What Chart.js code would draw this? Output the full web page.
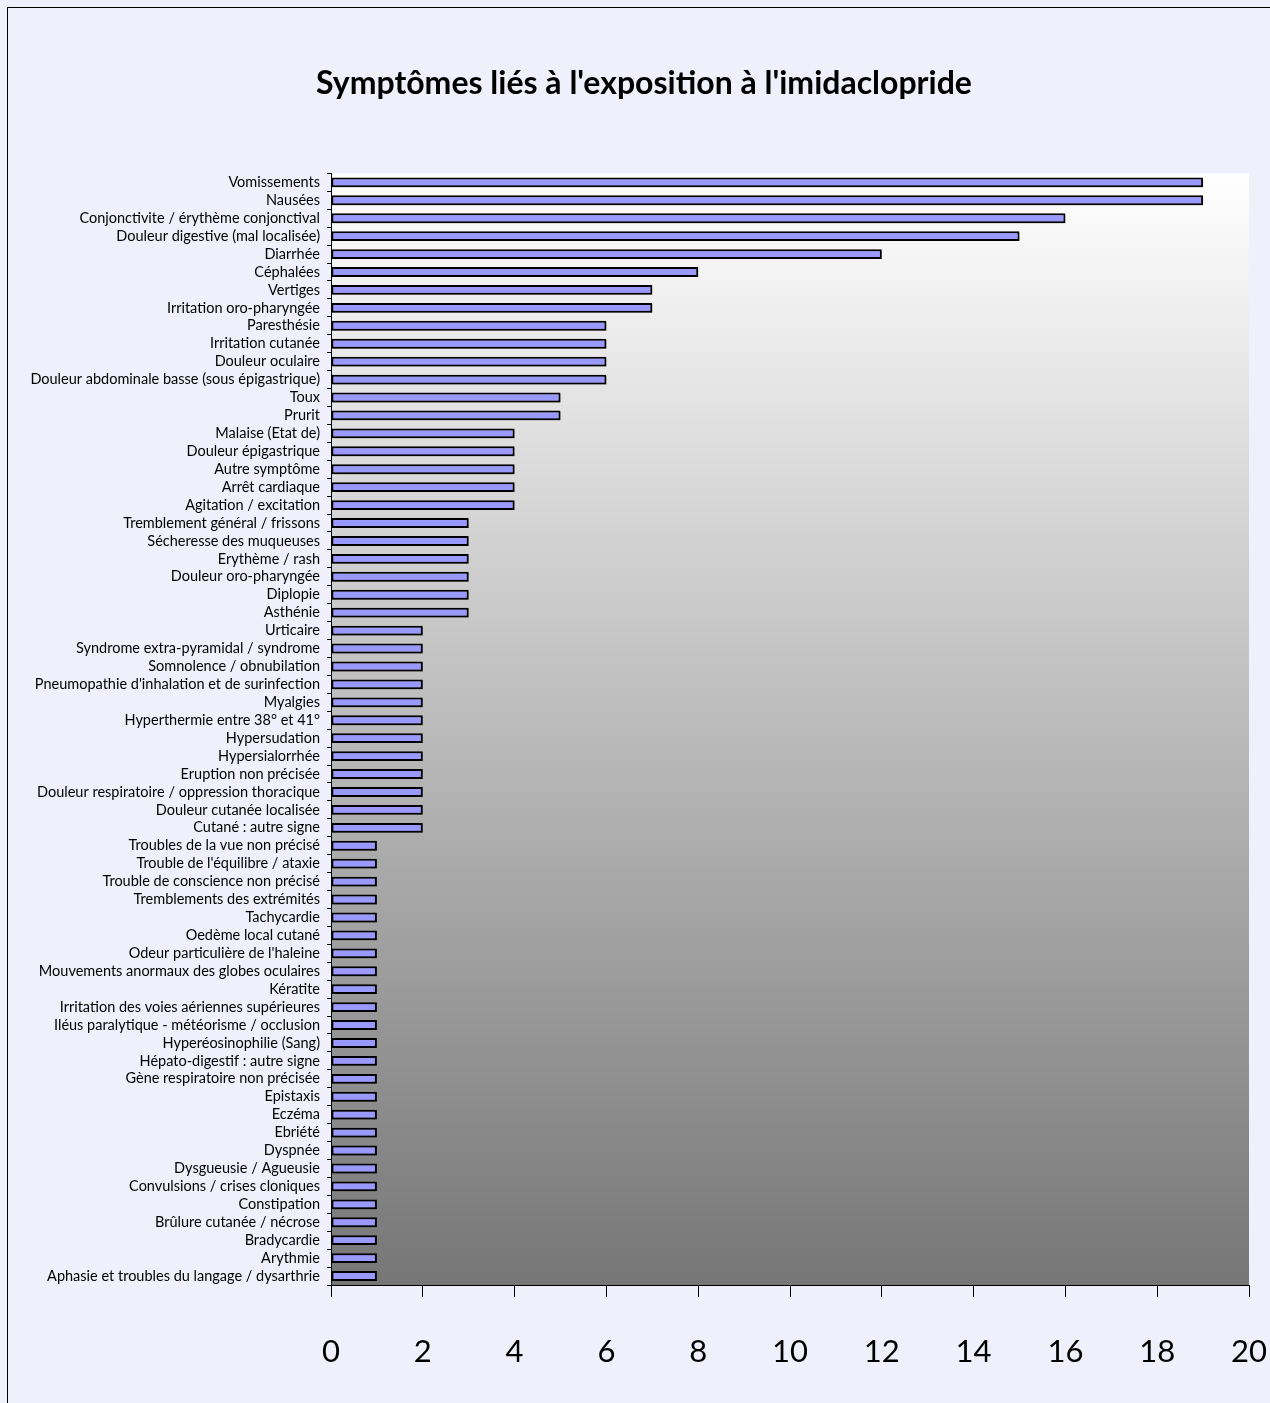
<!DOCTYPE html>
<html>
<head>
<meta charset="utf-8">
<script src="https://cdn.jsdelivr.net/npm/chart.js@4.4.1/dist/chart.umd.min.js"></script>
<style>
  html, body { margin: 0; padding: 0; background: #f0f0fc; }
  #wrap { position: relative; width: 1270px; height: 1403px; overflow: hidden; }
  #frame { position: absolute; left: 7px; top: 7px; width: 1300px; height: 1420px; border: 1px solid #000; box-sizing: border-box; }
  #box { position: absolute; left: 0; top: 0; width: 1270px; height: 1403px; }
</style>
</head>
<body>
<div id="wrap">
  <div id="frame"></div>
  <div id="box"><canvas id="chart"></canvas></div>
</div>
<script>
const TITLE = "Symptômes liés à l'exposition à l'imidaclopride";

const symptoms = [
  'Vomissements', 'Nausées', 'Conjonctivite / érythème conjonctival', 'Douleur digestive (mal localisée)',
  'Diarrhée', 'Céphalées', 'Vertiges', 'Irritation oro-pharyngée', 'Paresthésie', 'Irritation cutanée',
  'Douleur oculaire', 'Douleur abdominale basse (sous épigastrique)', 'Toux', 'Prurit', 'Malaise (Etat de)',
  'Douleur épigastrique', 'Autre symptôme', 'Arrêt cardiaque', 'Agitation / excitation',
  'Tremblement général / frissons', 'Sécheresse des muqueuses', 'Erythème / rash', 'Douleur oro-pharyngée',
  'Diplopie', 'Asthénie', 'Urticaire', 'Syndrome extra-pyramidal / syndrome', 'Somnolence / obnubilation',
  "Pneumopathie d'inhalation et de surinfection", 'Myalgies', 'Hyperthermie entre 38° et 41°',
  'Hypersudation', 'Hypersialorrhée', 'Eruption non précisée', 'Douleur respiratoire / oppression thoracique',
  'Douleur cutanée localisée', 'Cutané : autre signe', 'Troubles de la vue non précisé',
  "Trouble de l'équilibre / ataxie", 'Trouble de conscience non précisé', 'Tremblements des extrémités',
  'Tachycardie', 'Oedème local cutané', "Odeur particulière de l'haleine",
  'Mouvements anormaux des globes oculaires', 'Kératite', 'Irritation des voies aériennes supérieures',
  'Iléus paralytique - météorisme / occlusion', 'Hyperéosinophilie (Sang)', 'Hépato-digestif : autre signe',
  'Gène respiratoire non précisée', 'Epistaxis', 'Eczéma', 'Ebriété', 'Dyspnée', 'Dysgueusie / Agueusie',
  'Convulsions / crises cloniques', 'Constipation', 'Brûlure cutanée / nécrose', 'Bradycardie', 'Arythmie',
  'Aphasie et troubles du langage / dysarthrie'
];

const counts = [
  19, 19, 16, 15, 12, 8, 7, 7, 6, 6, 6, 6, 5, 5, 4, 4, 4, 4, 4,
  3, 3, 3, 3, 3, 3,
  2, 2, 2, 2, 2, 2, 2, 2, 2, 2, 2, 2,
  1, 1, 1, 1, 1, 1, 1, 1, 1, 1, 1, 1, 1, 1, 1, 1, 1, 1, 1, 1, 1, 1, 1, 1, 1, 1
];

const xTicks = [0, 2, 4, 6, 8, 10, 12, 14, 16, 18, 20];

const FONT = "Lato, 'Liberation Sans', sans-serif";
const PAD_LEFT = 25;

// gradient behind the plot area
const plotBg = {
  id: 'plotBg',
  beforeDraw(chart) {
    const { ctx, chartArea: a } = chart;
    const g = ctx.createLinearGradient(0, a.top, 0, a.bottom);
    g.addColorStop(0, '#ffffff');
    g.addColorStop(1, '#767676');
    ctx.save();
    ctx.fillStyle = g;
    ctx.fillRect(a.left, a.top, a.right - a.left, a.bottom - a.top);
    ctx.restore();
  }
};

// soft drop shadow on bars
const barShadow = {
  id: 'barShadow',
  beforeDatasetsDraw(chart) {
    const ctx = chart.ctx;
    ctx.save();
    ctx.shadowColor = 'rgba(0,0,0,0.35)';
    ctx.shadowOffsetX = 1.5;
    ctx.shadowOffsetY = 1.5;
    ctx.shadowBlur = 1.5;
  },
  afterDatasetsDraw(chart) { chart.ctx.restore(); }
};

// nudge the title so it is centred on the frame, not on the padded width
const titleShift = {
  id: 'titleShift',
  afterLayout(chart) {
    const t = chart.titleBlock;
    if (t) { t.left += 7; t.right += 7; }
  }
};

new Chart(document.getElementById('chart'), {
  type: 'bar',
  data: {
    labels: symptoms,
    datasets: [{
      data: counts,
      backgroundColor: '#9999ff',
      borderColor: '#000000',
      borderWidth: 2,
      borderSkipped: false,
      categoryPercentage: 1,
      barPercentage: 0.55
    }]
  },
  options: {
    indexAxis: 'y',
    responsive: true,
    maintainAspectRatio: false,
    animation: false,
    layout: { padding: { left: PAD_LEFT, right: 21, top: 0, bottom: 0 } },
    plugins: {
      legend: { display: false },
      tooltip: { enabled: false },
      title: {
        display: true,
        text: TITLE,
        color: '#000',
        font: { family: FONT, size: 32, weight: 'bold' },
        padding: { top: 64, bottom: 71 }
      }
    },
    scales: {
      y: {
        offset: true,
        grid: { display: true, drawOnChartArea: false, offset: true, tickLength: 4, color: '#000', lineWidth: 1 },
        border: { display: true, color: '#000', width: 1 },
        ticks: { color: '#000', font: { family: FONT, size: 14.5 }, padding: 7, autoSkip: false },
        afterFit(scale) { scale.width = 331 - PAD_LEFT; }
      },
      x: {
        min: 0,
        max: 20,
        afterBuildTicks(scale) { scale.ticks = xTicks.map(v => ({ value: v })); },
        grid: { display: true, drawOnChartArea: false, tickLength: 12, color: '#000', lineWidth: 1 },
        border: { display: true, color: '#000', width: 1 },
        ticks: { color: '#000', font: { family: FONT, size: 31 }, padding: 36, maxRotation: 0 },
        afterFit(scale) {
          scale.height = 1403 - 1285;
          scale.paddingLeft = 0;
          scale.paddingRight = 0;
        }
      }
    }
  },
  plugins: [plotBg, barShadow, titleShift]
});
</script>
</body>
</html>
